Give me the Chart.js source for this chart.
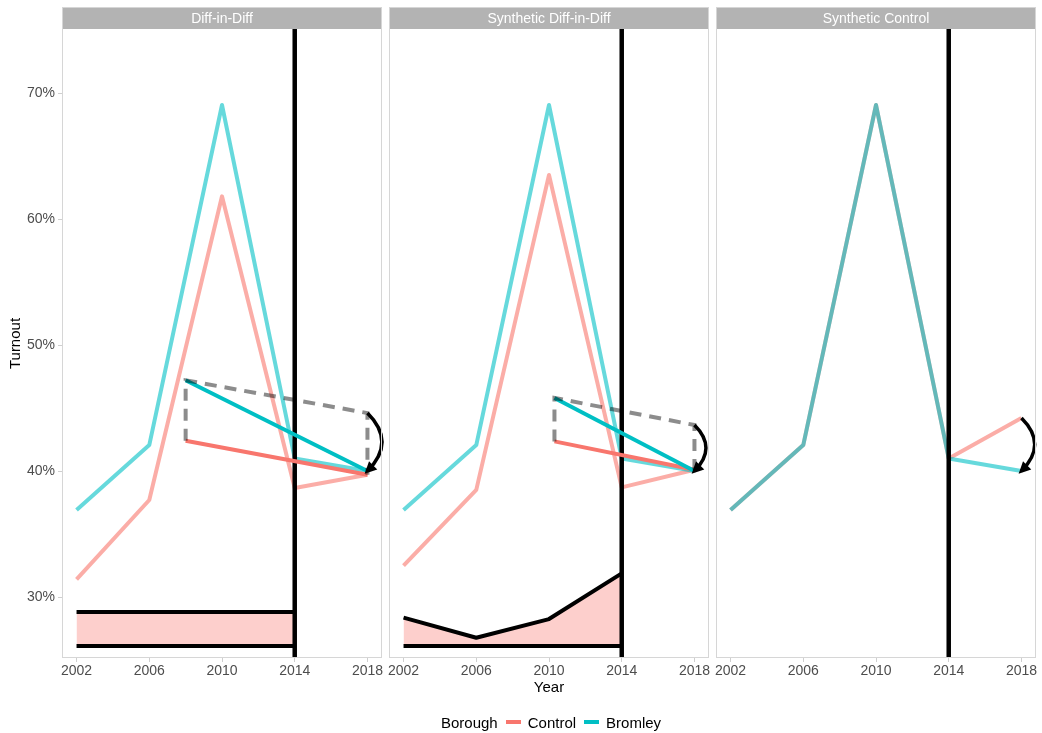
<!DOCTYPE html>
<html><head><meta charset="utf-8">
<script src="https://cdn.jsdelivr.net/npm/chart.js@4"></script>
<style>
body{margin:0;background:#fff;}
#wrap{position:relative;width:1042px;height:733px;font-family:"Liberation Sans",Arial,sans-serif;overflow:hidden;}
#wrap canvas{position:absolute;left:0;top:0;}
#legend{position:absolute;left:441px;top:711px;height:22px;display:flex;align-items:center;font-size:15px;color:#000;white-space:nowrap;}
#legend .key{display:inline-block;width:15px;height:4px;margin:0 7px 0 8px;}
</style></head>
<body>
<div id="wrap">
<canvas id="c1" width="1042" height="733"></canvas>
<canvas id="c2" width="1042" height="733"></canvas>
<canvas id="c3" width="1042" height="733"></canvas>
<div id="legend"><span>Borough</span><span class="key" style="background:#F8766D"></span><span>Control</span><span class="key" style="background:#00BFC4"></span><span>Bromley</span></div>
</div>
<script>
// ---------- data ----------
const panelTitles = ['Diff-in-Diff', 'Synthetic Diff-in-Diff', 'Synthetic Control'];
const years = [2002, 2006, 2010, 2014, 2018];
const xTicks = [2002, 2006, 2010, 2014, 2018];
const yTicks = [30, 40, 50, 60, 70];
const treatYear = 2014;

const bromley = [36.9, 42.06, 69.05, 41.0, 40.0];
const controlDiD = [31.4, 37.7, 61.8, 38.65, 39.7];
const controlSDiD = [32.5, 38.5, 63.5, 38.7, 40.1];
const controlSC = [36.9, 42.06, 69.05, 41.0, 44.2];

// diff segments (start year, end year)
const didSegYears = [2008, 2018];
const didBromleySeg = [47.2, 40.0];
const didControlSeg = [42.4, 39.7];
const didCfYears = [2008, 2008, 2018, 2018];
const didCounterfactual = [42.4, 47.2, 44.6, 39.7];

const sdidSegYears = [2010.3, 2018];
const sdidBromleySeg = [45.8, 40.0];
const sdidControlSeg = [42.35, 40.1];
const sdidCfYears = [2010.3, 2010.3, 2018, 2018];
const sdidCounterfactual = [42.35, 45.8, 43.65, 40.1];

// time-weight ribbons
const weightYears = [2002, 2006, 2010, 2014];
const weightBase = [26.11, 26.11, 26.11, 26.11];
const didWeightTop = [28.81, 28.81, 28.81, 28.81];
const sdidWeightTop = [28.36, 26.77, 28.25, 31.88];

// effect arrows: [year, from, to]
const didArrow = [2018, 44.6, 40.0];
const sdidArrow = [2018, 43.65, 40.0];
const scArrow = [2018, 44.2, 40.0];

// axis limits
const xMin = 2001.2, xMax = 2018.8;
const yMin = 25.16, yMax = 75.08;

// ---------- styling ----------
const FONT = '"Liberation Sans", Arial, sans-serif';
const C_CTRL = '#F8766D', C_BROM = '#00BFC4';
const C_CTRL_L = 'rgba(248,118,109,0.6)', C_BROM_L = 'rgba(0,191,196,0.6)';
const pts = (xs, ys) => xs.map((x, i) => ({x: x, y: ys[i]}));
const line = (data, color, order, extra) => Object.assign({
  data: data, borderColor: color, borderWidth: 4, pointRadius: 0, tension: 0,
  fill: false, order: order, borderCapStyle: 'butt', borderJoinStyle: 'round'
}, extra || {});

function datasets(kind) {
  const ds = [];
  if (kind !== 'sc') {
    const top = kind === 'did' ? didWeightTop : sdidWeightTop;
    ds.push(line(pts(weightYears, weightBase), '#000', 9));
    ds.push(line(pts(weightYears, top), '#000', 10, {fill: {target: 0}, backgroundColor: 'rgba(248,118,109,0.35)'}));
  }
  const ctrl = kind === 'did' ? controlDiD : (kind === 'sdid' ? controlSDiD : controlSC);
  ds.push(line(pts(years, ctrl), C_CTRL_L, 8));
  ds.push(line(pts(years, bromley), C_BROM_L, 7));
  ds.push(line([{x: treatYear, y: yMin}, {x: treatYear, y: yMax}], '#000', 6, {borderWidth: 4.5, clip: 0}));
  if (kind !== 'sc') {
    const segX = kind === 'did' ? didSegYears : sdidSegYears;
    ds.push(line(pts(segX, kind === 'did' ? didControlSeg : sdidControlSeg), C_CTRL, 5));
    ds.push(line(pts(segX, kind === 'did' ? didBromleySeg : sdidBromleySeg), C_BROM, 4));
    ds.push(line(pts(kind === 'did' ? didCfYears : sdidCfYears, kind === 'did' ? didCounterfactual : sdidCounterfactual),
      'rgba(0,0,0,0.45)', 3, {borderDash: [12, 8], borderJoinStyle: 'miter'}));
  }
  return ds;
}

const facetPlugin = {
  id: 'facet',
  beforeDraw(chart, args, opts) {
    const {ctx, chartArea: a} = chart;
    ctx.save();
    ctx.fillStyle = '#b3b3b3';
    ctx.fillRect(a.left, 7, a.right - a.left, a.top - 7);
    ctx.fillStyle = '#ffffff';
    ctx.font = '14px ' + FONT;
    ctx.textAlign = 'center';
    ctx.textBaseline = 'middle';
    ctx.fillText(opts.label, (a.left + a.right) / 2, (7 + a.top) / 2 + 1);
    ctx.restore();
  },
  afterDatasetsDraw(chart, args, opts) {
    const {ctx, scales: {x, y}} = chart;
    const ar = opts.arrow;
    const px = x.getPixelForValue(ar[0]);
    const y0 = y.getPixelForValue(ar[1]), y1 = y.getPixelForValue(ar[2]);
    const d = Math.abs(y1 - y0);
    const cx = px + 0.5 * d, cy = (y0 + y1) / 2;
    ctx.save();
    ctx.strokeStyle = '#000'; ctx.fillStyle = '#000';
    ctx.lineWidth = 3.5; ctx.lineCap = 'butt';
    ctx.beginPath();
    ctx.moveTo(px, y0);
    ctx.quadraticCurveTo(cx, cy, px, y1);
    ctx.stroke();
    const ang = Math.atan2(y1 - cy, px - cx);
    const L = 7, W = 0.45;
    ctx.beginPath();
    ctx.moveTo(px, y1);
    ctx.lineTo(px - L * Math.cos(ang - W), y1 - L * Math.sin(ang - W));
    ctx.lineTo(px - L * Math.cos(ang + W), y1 - L * Math.sin(ang + W));
    ctx.closePath();
    ctx.fill();
    ctx.stroke();
    ctx.restore();
  },
  afterDraw(chart) {
    const {ctx, chartArea: a} = chart;
    ctx.save();
    ctx.strokeStyle = '#d6d6d6';
    ctx.lineWidth = 1;
    ctx.strokeRect(a.left + 0.5, 7.5, a.right - a.left - 1, a.bottom - 7 - 1);
    ctx.restore();
  }
};

function makeChart(id, idx, kind, arrow, padL, padR) {
  const showY = idx === 0;
  return new Chart(document.getElementById(id), {
    type: 'line',
    data: {datasets: datasets(kind)},
    options: {
      responsive: false, animation: false, events: [],
      layout: {padding: {left: padL, right: padR, top: 29, bottom: 36}},
      plugins: {legend: {display: false}, tooltip: {enabled: false},
        facet: {label: panelTitles[idx], arrow: arrow}},
      scales: {
        x: {
          type: 'linear', min: xMin, max: xMax,
          afterBuildTicks: s => { s.ticks = xTicks.map(v => ({value: v})); },
          afterFit: s => { s.height = 39; },
          grid: {display: true, drawOnChartArea: false, drawTicks: true, tickLength: 4, color: '#cfcfcf'},
          border: {display: false},
          ticks: {color: '#4d4d4d', font: {family: FONT, size: 14}, padding: 1, maxRotation: 0, autoSkip: false,
            callback: v => String(v)},
          title: {display: idx === 1, text: 'Year', color: '#000', font: {family: FONT, size: 15}, padding: {top: 0, bottom: 0}}
        },
        y: {
          type: 'linear', min: yMin, max: yMax, display: showY,
          afterBuildTicks: s => { s.ticks = yTicks.map(v => ({value: v})); },
          afterFit: s => { s.width = showY ? 62 : 0; },
          grid: {display: true, drawOnChartArea: false, drawTicks: true, tickLength: 4, color: '#cfcfcf'},
          border: {display: false},
          ticks: {color: '#4d4d4d', font: {family: FONT, size: 14}, padding: 3, callback: v => v + '%'},
          title: {display: true, text: 'Turnout', color: '#000', font: {family: FONT, size: 15}, padding: {top: 7, bottom: 0}}
        }
      }
    },
    plugins: [facetPlugin]
  });
}

makeChart('c1', 0, 'did', didArrow, 0, 1042 - 382);
makeChart('c2', 1, 'sdid', sdidArrow, 389, 1042 - 709);
makeChart('c3', 2, 'sc', scArrow, 716, 1042 - 1036);
</script>
</body></html>
